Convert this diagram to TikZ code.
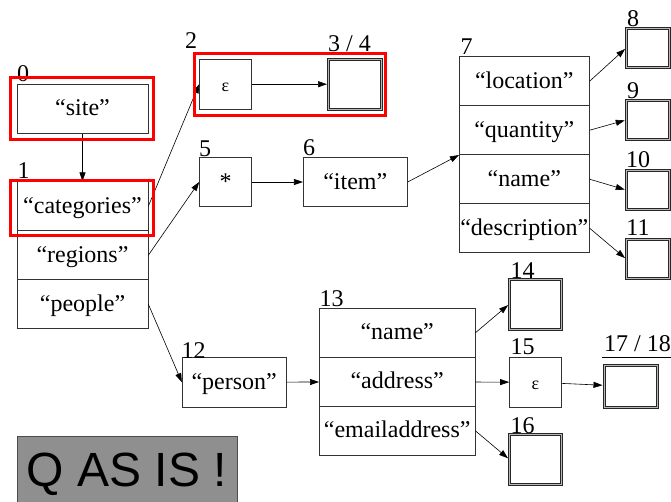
\documentclass[tikz,border=0pt]{standalone}
\usepackage{fontspec}
\setmainfont{Liberation Serif}
\newfontfamily\bannerfont{Liberation Sans}
\usetikzlibrary{arrows.meta}

\tikzset{
  state/.style={draw=black!80, line width=0.7pt, inner sep=0pt,
    text height=18pt, text depth=4pt, font=\fontsize{24}{24}\selectfont},
  small/.style={state, minimum width=52pt, minimum height=49.5pt},
  wide/.style={state, minimum width=104pt, minimum height=49.5pt},
  accept/.style={draw=black!85, double=gray!55, double distance=1.2pt,
    line width=0.8pt, inner sep=0pt, minimum width=#1},
  num/.style={inner sep=0pt, text height=16.2pt, text depth=0pt,
    font=\fontsize{24}{24}\selectfont},
  hilite/.style={draw=red, line width=3pt},
  edge/.style={-{Triangle[length=9pt,width=6pt]}, line width=0.6pt},
}

\begin{document}
\begin{tikzpicture}[x=1pt,y=-1pt]
    \useasboundingbox (0,0) rectangle (671,501);

    \node[state, minimum width=131pt, minimum height=49pt] (site) at (82.5,108.8) {“site”};
    \node[state, minimum width=131pt, minimum height=49pt] (cat) at (82.5,206.2) {“categories”};
    \node[state, minimum width=131pt, minimum height=49pt] (regions) at (82.5,255.2) {“regions”};
    \node[state, minimum width=131pt, minimum height=49pt] (people) at (82.5,304.2) {“people”};

    \node[small] (eps2) at (225.5,84.2) {\fontsize{18}{18}\selectfont ε};
    \node[accept=53pt, minimum height=50pt] (acc34) at (355.3,84.2) {};
    \node[small] (star) at (225.5,182) {*};
    \node[wide] (item) at (355.3,182) {“item”};

    \node[state, minimum width=130pt, minimum height=49pt] (loc7) at (524.3,81.2) {“location”};
    \node[state, minimum width=130pt, minimum height=49pt] (qty7) at (524.3,130.2) {“quantity”};
    \node[state, minimum width=130pt, minimum height=49pt] (name7) at (524.3,179.2) {“name”};
    \node[state, minimum width=130pt, minimum height=49pt] (desc7) at (524.3,228.2) {“description”};

    \node[accept=43pt, minimum height=39pt] (acc8) at (648,48) {};
    \node[accept=43pt, minimum height=39pt] (acc9) at (648,120) {};
    \node[accept=43pt, minimum height=39pt] (acc10) at (648,190) {};
    \node[accept=43pt, minimum height=39pt] (acc11) at (648,259) {};

    \node[wide] (person) at (234.2,382.2) {“person”};
    \node[state, minimum width=155.7pt, minimum height=49pt] (name13) at (397.2,332.8) {“name”};
    \node[state, minimum width=155.7pt, minimum height=49pt] (addr13) at (397.2,381.8) {“address”};
    \node[state, minimum width=155.7pt, minimum height=49pt] (email13) at (397.2,430.8) {“emailaddress”};

    \node[accept=52pt, minimum height=50pt] (acc14) at (535.5,304.2) {};
    \node[small] (eps15) at (535.5,382.2) {\fontsize{18}{18}\selectfont ε};
    \node[accept=52pt, minimum height=50pt] (acc16) at (535.5,459.2) {};
    \node[accept=53pt, minimum height=42pt] (acc17) at (630.8,386.5) {};

    \node[num] at (23,73.5) {0};
    \node[num] at (23.5,170.5) {1};
    \node[num] at (191,40) {2};
    \node[num] (l34) at (349.5,43) {3 / 4};
    \node[num] at (205,148) {5};
    \node[num] at (309,147.5) {6};
    \node[num] at (466.5,46) {7};
    \node[num] at (633,18) {8};
    \node[num] at (633,90) {9};
    \node[num] at (638,159.5) {10};
    \node[num] at (638,227.5) {11};
    \node[num] at (193.5,350.5) {12};
    \node[num] at (331.7,298) {13};
    \node[num] at (522.5,270.5) {14};
    \node[num] at (522.5,346.5) {15};
    \node[num] at (522.5,425.5) {16};
    \node[num] (l1718) at (637.5,343) {17 / 18};
    \draw[line width=0.8pt] ([yshift=-3pt]l34.south west) -- ([yshift=-3pt]l34.south east);
    \draw[line width=0.8pt] ([shift={(-2pt,-6pt)}]l1718.south west) -- ([shift={(1pt,-6pt)}]l1718.south east);

    \draw[edge] (site) -- (cat);
    \draw[edge] (cat.east) -- (eps2.west);
    \draw[edge] (regions.east) -- (star.west);
    \draw[edge] (people.east) -- (person.west);
    \draw[edge, shorten >=1.4pt] (eps2) -- (acc34);
    \draw[edge] (star) -- (item);
    \draw[edge] (item.east) -- (qty7.south west);
    \foreach \r/\t in {loc7/8, qty7/9, name7/10, desc7/11}
        \draw[edge, shorten >=1.4pt] (\r.east) -- (acc\t.west);
    \draw[edge] (person) -- (addr13);
    \draw[edge, shorten >=1.4pt] (name13.east) -- (acc14.west);
    \draw[edge] (addr13) -- (eps15);
    \draw[edge, shorten >=1.4pt] (eps15) -- (acc17);
    \draw[edge, shorten >=1.4pt] (email13.east) -- (acc16.west);

    \draw[hilite] (10.5,77.2) rectangle (153.5,139.2);
    \draw[hilite] (10.5,180.5) rectangle (153.5,235.5);
    \draw[hilite] (194.5,53.2) rectangle (385.2,115.8);

    \node[draw=black!70, fill=black!44, inner sep=0pt, minimum width=220.6pt,
        minimum height=67pt, text height=34.5pt, text depth=0pt,
        font=\bannerfont\fontsize{48}{48}\selectfont] (banner) at (127,469.5) {Q AS IS !};
\end{tikzpicture}
\end{document}
